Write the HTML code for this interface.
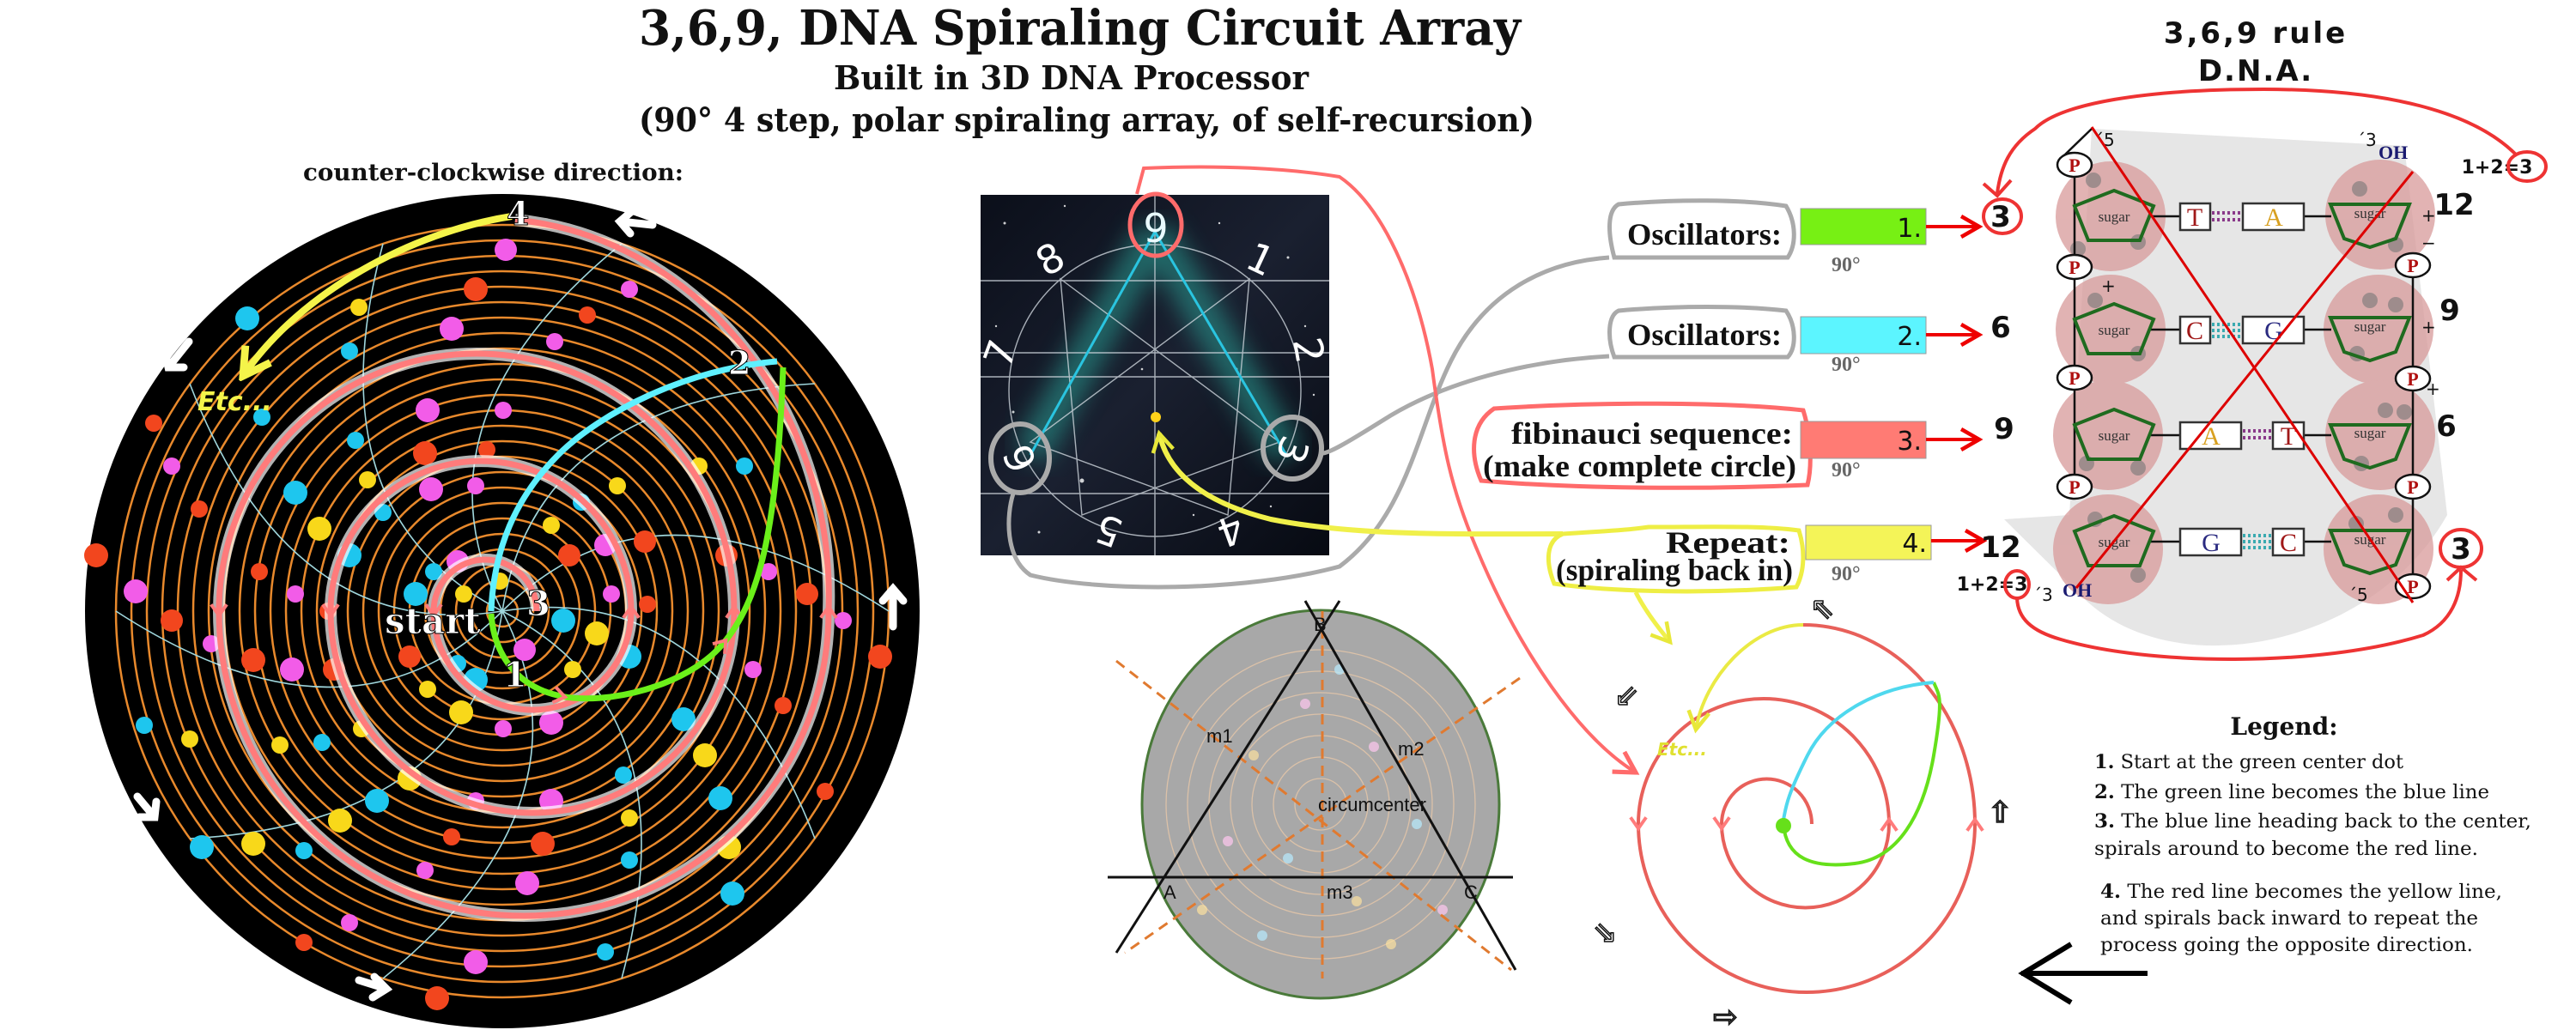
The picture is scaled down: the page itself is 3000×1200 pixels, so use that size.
<!DOCTYPE html>
<html><head><meta charset="utf-8"><style>
html,body{margin:0;padding:0;background:#fff;}
svg{display:block;}
</style></head><body>
<svg width="3000" height="1200" viewBox="0 0 3000 1200" xmlns="http://www.w3.org/2000/svg">
<defs>
<marker id="rh" viewBox="0 0 20 20" refX="16" refY="10" markerWidth="9" markerHeight="9" orient="auto" markerUnits="userSpaceOnUse"><path d="M2 2 L16 10 L2 18" fill="none" stroke="#d00" stroke-width="3"/></marker>
<marker id="ra" viewBox="0 0 20 20" refX="17" refY="10" markerWidth="30" markerHeight="30" orient="auto" markerUnits="userSpaceOnUse"><path d="M3 2 L17 10 L3 18" fill="none" stroke="#e00" stroke-width="3"/></marker>
<marker id="pa" viewBox="0 0 20 20" refX="17" refY="10" markerWidth="34" markerHeight="34" orient="auto" markerUnits="userSpaceOnUse"><path d="M3 2 L17 10 L3 18" fill="none" stroke="#ff6b6b" stroke-width="3"/></marker>
<marker id="ya" viewBox="0 0 20 20" refX="17" refY="10" markerWidth="44" markerHeight="44" orient="auto" markerUnits="userSpaceOnUse"><path d="M3 2 L17 10 L3 18" fill="none" stroke="#f4f44a" stroke-width="4"/></marker>
<marker id="ya2" viewBox="0 0 20 20" refX="17" refY="10" markerWidth="30" markerHeight="30" orient="auto" markerUnits="userSpaceOnUse"><path d="M3 2 L17 10 L3 18" fill="none" stroke="#e8e83a" stroke-width="3"/></marker>
<marker id="ch" viewBox="0 0 20 20" refX="10" refY="10" markerWidth="26" markerHeight="26" orient="auto" markerUnits="userSpaceOnUse"><path d="M4 3 L14 10 L4 17" fill="none" stroke="#ff7b7b" stroke-width="3"/></marker>
<linearGradient id="sky" x1="0" y1="0" x2="1" y2="1"><stop offset="0" stop-color="#0b0f1a"/><stop offset="0.5" stop-color="#1a2030"/><stop offset="1" stop-color="#070a12"/></linearGradient>
<filter id="blur"><feGaussianBlur stdDeviation="14"/></filter>
</defs>

<g font-family="'DejaVu Serif','Liberation Serif',serif" font-weight="bold" fill="#111">
<text x="744" y="52" font-size="56" textLength="1027" lengthAdjust="spacingAndGlyphs">3,6,9, DNA Spiraling Circuit Array</text>
<text x="971" y="104" font-size="38" textLength="553" lengthAdjust="spacingAndGlyphs">Built in 3D DNA Processor</text>
<text x="744" y="153" font-size="38" textLength="1043" lengthAdjust="spacingAndGlyphs">(90° 4 step, polar spiraling array, of self-recursion)</text>
<text x="353" y="210" font-size="27" textLength="443" lengthAdjust="spacingAndGlyphs">counter-clockwise direction:</text>
</g>

<circle cx="585" cy="712" r="486" fill="#000"/>
<g fill="none" stroke="#e8892c" stroke-width="2.5">
<circle cx="585" cy="712" r="18"/><circle cx="585" cy="712" r="36"/><circle cx="585" cy="712" r="54"/><circle cx="585" cy="712" r="72"/><circle cx="585" cy="712" r="90"/><circle cx="585" cy="712" r="108"/><circle cx="585" cy="712" r="126"/><circle cx="585" cy="712" r="144"/><circle cx="585" cy="712" r="162"/><circle cx="585" cy="712" r="180"/><circle cx="585" cy="712" r="198"/><circle cx="585" cy="712" r="216"/><circle cx="585" cy="712" r="234"/><circle cx="585" cy="712" r="252"/><circle cx="585" cy="712" r="270"/><circle cx="585" cy="712" r="288"/><circle cx="585" cy="712" r="306"/><circle cx="585" cy="712" r="324"/><circle cx="585" cy="712" r="342"/><circle cx="585" cy="712" r="360"/><circle cx="585" cy="712" r="378"/><circle cx="585" cy="712" r="396"/><circle cx="585" cy="712" r="414"/><circle cx="585" cy="712" r="432"/><circle cx="585" cy="712" r="450"/>
</g>
<g fill="none" stroke="#9fd6dc" stroke-width="1.6">
<path d="M585 712 Q762 535 1035 712"/><path d="M585 712 Q832 673 949 977"/><path d="M585 712 Q808 826 724 1140"/><path d="M585 712 Q699 935 446 1140"/><path d="M585 712 Q546 959 221 977"/><path d="M585 712 Q408 889 135 712"/><path d="M585 712 Q338 751 221 447"/><path d="M585 712 Q362 598 446 284"/><path d="M585 712 Q472 489 724 284"/><path d="M585 712 Q624 465 949 447"/>
</g>
<g fill="#f2461e">
<circle cx="554" cy="337" r="14"/><circle cx="684" cy="367" r="10"/><circle cx="112" cy="647" r="14"/><circle cx="200" cy="723" r="13"/><circle cx="295" cy="769" r="14"/><circle cx="495" cy="528" r="14"/><circle cx="389" cy="780" r="13"/><circle cx="477" cy="765" r="13"/><circle cx="663" cy="647" r="13"/><circle cx="751" cy="631" r="13"/><circle cx="846" cy="647" r="13"/><circle cx="940" cy="692" r="13"/><circle cx="1025" cy="765" r="14"/><circle cx="912" cy="822" r="10"/><circle cx="632" cy="983" r="14"/><circle cx="526" cy="975" r="10"/><circle cx="961" cy="922" r="10"/><circle cx="354" cy="1098" r="10"/><circle cx="509" cy="1163" r="14"/><circle cx="179" cy="493" r="10"/><circle cx="232" cy="593" r="10"/><circle cx="567" cy="524" r="10"/><circle cx="754" cy="704" r="10"/><circle cx="382" cy="712" r="10"/><circle cx="302" cy="666" r="10"/>
</g>
<g fill="#f25ce8">
<circle cx="589" cy="291" r="13"/><circle cx="733" cy="337" r="10"/><circle cx="646" cy="398" r="10"/><circle cx="526" cy="383" r="14"/><circle cx="498" cy="478" r="14"/><circle cx="586" cy="478" r="10"/><circle cx="502" cy="570" r="14"/><circle cx="554" cy="566" r="10"/><circle cx="705" cy="635" r="13"/><circle cx="712" cy="692" r="10"/><circle cx="533" cy="654" r="13"/><circle cx="611" cy="757" r="13"/><circle cx="642" cy="842" r="14"/><circle cx="586" cy="849" r="10"/><circle cx="158" cy="689" r="14"/><circle cx="340" cy="780" r="14"/><circle cx="344" cy="692" r="10"/><circle cx="554" cy="933" r="10"/><circle cx="642" cy="933" r="14"/><circle cx="614" cy="1029" r="14"/><circle cx="495" cy="1014" r="10"/><circle cx="407" cy="1075" r="10"/><circle cx="554" cy="1121" r="14"/><circle cx="877" cy="780" r="10"/><circle cx="895" cy="666" r="10"/><circle cx="200" cy="543" r="10"/><circle cx="982" cy="723" r="10"/><circle cx="246" cy="750" r="10"/>
</g>
<g fill="#1ec6ee">
<circle cx="288" cy="371" r="14"/><circle cx="407" cy="409" r="10"/><circle cx="414" cy="513" r="10"/><circle cx="344" cy="574" r="14"/><circle cx="446" cy="597" r="10"/><circle cx="407" cy="647" r="14"/><circle cx="484" cy="692" r="14"/><circle cx="505" cy="666" r="10"/><circle cx="554" cy="792" r="14"/><circle cx="656" cy="723" r="14"/><circle cx="677" cy="585" r="10"/><circle cx="733" cy="765" r="14"/><circle cx="867" cy="543" r="10"/><circle cx="796" cy="838" r="14"/><circle cx="839" cy="930" r="14"/><circle cx="733" cy="1002" r="10"/><circle cx="853" cy="1041" r="14"/><circle cx="726" cy="903" r="10"/><circle cx="439" cy="933" r="14"/><circle cx="375" cy="865" r="10"/><circle cx="168" cy="845" r="10"/><circle cx="235" cy="987" r="14"/><circle cx="354" cy="991" r="10"/><circle cx="705" cy="1109" r="10"/><circle cx="305" cy="486" r="10"/><circle cx="533" cy="773" r="10"/>
</g>
<g fill="#f8d81a">
<circle cx="418" cy="358" r="10"/><circle cx="372" cy="616" r="14"/><circle cx="428" cy="559" r="10"/><circle cx="642" cy="612" r="10"/><circle cx="719" cy="566" r="10"/><circle cx="814" cy="543" r="10"/><circle cx="695" cy="738" r="14"/><circle cx="667" cy="780" r="10"/><circle cx="537" cy="830" r="14"/><circle cx="498" cy="803" r="10"/><circle cx="477" cy="907" r="14"/><circle cx="421" cy="849" r="10"/><circle cx="326" cy="868" r="10"/><circle cx="221" cy="861" r="10"/><circle cx="295" cy="983" r="14"/><circle cx="396" cy="956" r="14"/><circle cx="733" cy="953" r="10"/><circle cx="821" cy="880" r="14"/><circle cx="849" cy="987" r="14"/><circle cx="582" cy="677" r="10"/><circle cx="540" cy="692" r="10"/>
</g>
<path d="M625 712 A60 60 0 0 0 505 712 A115 115 0 0 0 735 712 A175 175 0 0 0 385 712 A235 235 0 0 0 855 712 A300 300 0 0 0 255 712 A355 355 0 0 0 965 712 A400 440 0 0 0 600 256" fill="none" stroke="#fff" stroke-opacity="0.7" stroke-width="14"/>
<path d="M625 712 A60 60 0 0 0 505 712 A115 115 0 0 0 735 712 A175 175 0 0 0 385 712 A235 235 0 0 0 855 712 A300 300 0 0 0 255 712 A355 355 0 0 0 965 712 A400 440 0 0 0 600 256" fill="none" stroke="#ff7b7b" stroke-width="7" marker-mid="url(#ch)"/>
<path d="M572 715 C575 760 600 800 653 811 S800 800 842 750 S905 620 912 428" fill="none" stroke="#6bf01a" stroke-width="7" marker-mid="url(#ch)"/>
<path d="M905 421 C800 430 700 480 650 530 S575 640 572 712" fill="none" stroke="#5ff0ff" stroke-width="7"/>
<path d="M596 252 C480 270 350 340 283 438" fill="none" stroke="#f4f44a" stroke-width="8" marker-end="url(#ya)"/>
<text x="230" y="478" font-family="'DejaVu Sans',sans-serif" font-weight="bold" font-style="italic" font-size="30" fill="#f4f44a">Etc...</text>
<g font-family="'DejaVu Serif',serif" font-weight="bold" fill="#fff" stroke="#000" stroke-width="1">
<text x="590" y="262" font-size="38">4</text>
<text x="848" y="436" font-size="38">2</text>
<text x="613" y="717" font-size="40">3</text>
<text x="586" y="800" font-size="40">1</text>
<text x="448" y="738" font-size="42">start</text>
</g>
<g fill="none" stroke="#fff" stroke-width="9" stroke-linecap="round">
<path d="M760 262 L722 258 M736 246 L722 258 L734 272"/>
<path d="M220 398 L196 428 M192 410 L196 428 L214 428"/>
<path d="M1040 730 L1040 686 M1028 700 L1040 686 L1052 700"/>
<path d="M160 928 L180 952 M182 934 L180 952 L162 952"/>
<path d="M418 1142 L450 1152 M436 1138 L450 1152 L434 1162"/>
</g>

<rect x="1142" y="227" width="406" height="420" fill="url(#sky)"/>
<g fill="#fff" opacity="0.8">
<circle cx="1170" cy="260" r="1.5"/><circle cx="1240" cy="240" r="1.2"/><circle cx="1300" cy="350" r="1.5"/><circle cx="1420" cy="260" r="1.2"/><circle cx="1500" cy="300" r="1.5"/><circle cx="1530" cy="460" r="1.2"/><circle cx="1180" cy="480" r="1.5"/><circle cx="1260" cy="560" r="2.5"/><circle cx="1440" cy="430" r="1.5"/><circle cx="1390" cy="600" r="1.2"/><circle cx="1210" cy="620" r="1.5"/><circle cx="1480" cy="590" r="1.2"/><circle cx="1330" cy="430" r="1.3"/><circle cx="1160" cy="380" r="1.2"/><circle cx="1520" cy="380" r="1.2"/>
</g>
<path d="M1345 270 L1200 530 M1345 270 L1498 530" stroke="#2fb7a8" stroke-width="40" opacity="0.5" filter="url(#blur)" fill="none"/>
<g stroke="#cfd6dd" stroke-width="1.4" fill="none" opacity="0.8">
<line x1="1142" y1="327" x2="1548" y2="327"/><line x1="1142" y1="411" x2="1548" y2="411"/><line x1="1142" y1="439" x2="1548" y2="439"/><line x1="1142" y1="575" x2="1548" y2="575"/>
<line x1="1345" y1="227" x2="1345" y2="647"/>
<circle cx="1345" cy="455" r="170"/>
<path d="M1235 325 L1490 515 L1260 600 Z"/><path d="M1455 325 L1200 515 L1430 600 Z"/>
</g>
<path d="M1345 270 L1200 530 M1345 270 L1498 530" stroke="#2ac4e0" stroke-width="3" fill="none"/>
<circle cx="1346" cy="486" r="6" fill="#ffd21a"/>
<g font-family="'DejaVu Sans',sans-serif" font-size="46" fill="#fff" text-anchor="middle">
<text x="1346" y="282" fill="#e8fbff">9</text>
<text x="1468" y="318" transform="rotate(25 1468 302)">1</text>
<text x="1524" y="424" transform="rotate(80 1524 408)">2</text>
<text x="1505" y="540" transform="rotate(110 1505 524)">3</text>
<text x="1433" y="634" transform="rotate(160 1433 618)">4</text>
<text x="1291" y="634" transform="rotate(200 1291 618)">5</text>
<text x="1188" y="550" transform="rotate(245 1188 534)">6</text>
<text x="1165" y="428" transform="rotate(290 1165 412)">7</text>
<text x="1223" y="318" transform="rotate(330 1223 302)">8</text>
</g>
<ellipse cx="1346" cy="262" rx="30" ry="36" fill="none" stroke="#ff6b6b" stroke-width="5"/>
<ellipse cx="1505" cy="522" rx="34" ry="36" fill="none" stroke="#aaa" stroke-width="6"/>
<ellipse cx="1188" cy="534" rx="34" ry="40" fill="none" stroke="#aaa" stroke-width="6"/>

<path d="M1874 300 C1800 305 1730 340 1690 420 C1650 500 1640 600 1560 660 C1450 690 1280 690 1200 670 C1170 650 1172 600 1180 575" fill="none" stroke="#aaa" stroke-width="5"/>
<path d="M1874 415 C1780 420 1680 445 1610 490 C1570 515 1545 530 1538 528" fill="none" stroke="#aaa" stroke-width="5"/>
<path d="M1324 226 L1332 196 C1420 192 1500 196 1560 206 C1610 240 1650 330 1668 430 C1680 520 1690 570 1720 640 C1770 760 1840 860 1905 900" fill="none" stroke="#ff6b6b" stroke-width="4" marker-end="url(#pa)"/>
<path d="M1820 622 C1700 622 1580 625 1480 605 C1400 585 1360 550 1350 505" fill="none" stroke="#f0f04a" stroke-width="6" marker-end="url(#ya2)"/>
<path d="M1905 690 C1915 710 1930 730 1945 748" fill="none" stroke="#f0f04a" stroke-width="5" marker-end="url(#ya2)"/>

<ellipse cx="1538" cy="937" rx="208" ry="226" fill="#a8a8a8" stroke="#4a7a3a" stroke-width="3"/>
<g fill="none" stroke="#e8c8a8" stroke-width="1.3" opacity="0.8">
<circle cx="1538" cy="937" r="30"/><circle cx="1538" cy="937" r="55"/><circle cx="1538" cy="937" r="80"/><circle cx="1538" cy="937" r="105"/><circle cx="1538" cy="937" r="130"/><circle cx="1538" cy="937" r="155"/><circle cx="1538" cy="937" r="180"/>
</g>
<g opacity="0.7">
<circle cx="1460" cy="880" r="6" fill="#fde2a0"/><circle cx="1600" cy="870" r="6" fill="#ffc8f0"/><circle cx="1500" cy="1000" r="6" fill="#b8ecff"/><circle cx="1580" cy="1050" r="6" fill="#fde2a0"/><circle cx="1430" cy="980" r="6" fill="#ffc8f0"/><circle cx="1650" cy="960" r="6" fill="#b8ecff"/><circle cx="1520" cy="820" r="6" fill="#ffc8f0"/><circle cx="1470" cy="1090" r="6" fill="#b8ecff"/><circle cx="1620" cy="1100" r="6" fill="#fde2a0"/><circle cx="1400" cy="1060" r="6" fill="#fde2a0"/><circle cx="1560" cy="780" r="6" fill="#b8ecff"/><circle cx="1680" cy="1060" r="6" fill="#ffc8f0"/>
</g>
<g stroke="#e07a30" stroke-width="3" stroke-dasharray="12 8" fill="none">
<line x1="1540" y1="712" x2="1540" y2="1140"/><line x1="1300" y1="770" x2="1760" y2="1130"/><line x1="1770" y1="790" x2="1310" y2="1110"/>
</g>
<g stroke="#111" stroke-width="3" fill="none">
<line x1="1290" y1="1022" x2="1762" y2="1022"/><line x1="1300" y1="1110" x2="1560" y2="700"/><line x1="1520" y1="700" x2="1765" y2="1130"/>
</g>
<g font-family="'Liberation Sans',sans-serif" font-size="22" fill="#111">
<text x="1530" y="735">B</text><text x="1355" y="1047">A</text><text x="1705" y="1047">C</text>
<text x="1405" y="865">m1</text><text x="1628" y="880">m2</text><text x="1545" y="1047">m3</text><text x="1535" y="945">circumcenter</text>
</g>

<g fill="none" stroke-width="5">
<path d="M1880 300 C1872 270 1872 245 1885 238 C1950 232 2030 232 2080 240 C2092 260 2092 285 2082 300 Z" stroke="#aaa"/>
<path d="M1880 416 C1872 395 1872 368 1885 362 C1950 356 2030 356 2080 362 C2092 380 2092 405 2082 416 Z" stroke="#aaa"/>
<path d="M1725 560 C1712 530 1712 495 1740 476 C1860 468 2010 468 2100 478 C2110 510 2110 545 2105 565 C1990 570 1840 570 1725 560 Z" stroke="#ff6b6b"/>
<path d="M1810 680 C1800 655 1800 630 1820 622 C1880 618 1890 618 1920 614 C1990 614 2050 612 2095 618 C2102 640 2102 665 2092 684 C1990 692 1880 690 1810 680 Z" stroke="#eeee44"/>
</g>
<g font-family="'Liberation Serif',serif" font-weight="bold" fill="#111" font-size="36">
<text x="1895" y="285" textLength="180" lengthAdjust="spacingAndGlyphs">Oscillators:</text>
<text x="1895" y="402" textLength="180" lengthAdjust="spacingAndGlyphs">Oscillators:</text>
<text x="1760" y="517" textLength="328" lengthAdjust="spacingAndGlyphs">fibinauci sequence:</text>
<text x="1727" y="555" textLength="365" lengthAdjust="spacingAndGlyphs">(make complete circle)</text>
<text x="1940" y="644" textLength="145" lengthAdjust="spacingAndGlyphs">Repeat:</text>
<text x="1812" y="676" textLength="276" lengthAdjust="spacingAndGlyphs">(spiraling back in)</text>
</g>
<rect x="2097" y="243" width="146" height="42" fill="#77f014" stroke="#999"/>
<rect x="2097" y="369" width="146" height="43" fill="#5cf5ff" stroke="#999"/>
<rect x="2097" y="491" width="146" height="43" fill="#ff7b74" stroke="#999"/>
<rect x="2103" y="612" width="146" height="40" fill="#f4f458" stroke="#999"/>
<g font-family="'DejaVu Sans',sans-serif" font-size="30" fill="#111" text-anchor="end">
<text x="2238" y="276">1.</text><text x="2238" y="402">2.</text><text x="2238" y="524">3.</text><text x="2244" y="643">4.</text>
</g>
<g font-family="'Liberation Serif',serif" font-weight="bold" font-size="24" fill="#666">
<text x="2133" y="316">90°</text><text x="2133" y="432">90°</text><text x="2133" y="555">90°</text><text x="2133" y="676">90°</text>
</g>
<g stroke="#e00" stroke-width="4" fill="none">
<line x1="2243" y1="264" x2="2305" y2="264" marker-end="url(#ra)"/>
<line x1="2243" y1="390" x2="2305" y2="390" marker-end="url(#ra)"/>
<line x1="2243" y1="512" x2="2305" y2="512" marker-end="url(#ra)"/>
<line x1="2249" y1="630" x2="2310" y2="630" marker-end="url(#ra)"/>
</g>

<g font-family="'DejaVu Sans',sans-serif" font-weight="bold" fill="#111" text-anchor="middle">
<text x="2627" y="50" font-size="34" letter-spacing="3">3,6,9 rule</text>
<text x="2627" y="94" font-size="34" letter-spacing="2">D.N.A.</text>
</g>
<path d="M2436 150 L2800 170 L2850 600 C2760 760 2520 800 2420 690 L2334 605 L2410 600 Z" fill="#e6e6e6"/>
<g fill="#d89a9a" opacity="0.75">
<circle cx="2458" cy="252" r="64"/><circle cx="2458" cy="384" r="64"/><circle cx="2455" cy="507" r="64"/><circle cx="2455" cy="640" r="64"/>
<circle cx="2772" cy="250" r="64"/><circle cx="2770" cy="384" r="64"/><circle cx="2772" cy="507" r="64"/><circle cx="2770" cy="640" r="64"/>
</g>
<g fill="#777" opacity="0.6">
<circle cx="2438" cy="210" r="9"/><circle cx="2490" cy="282" r="9"/><circle cx="2420" cy="290" r="9"/><circle cx="2748" cy="220" r="9"/><circle cx="2790" cy="285" r="9"/><circle cx="2760" cy="350" r="9"/><circle cx="2790" cy="355" r="9"/><circle cx="2745" cy="412" r="9"/><circle cx="2778" cy="478" r="9"/><circle cx="2800" cy="480" r="9"/><circle cx="2750" cy="540" r="9"/><circle cx="2790" cy="600" r="9"/><circle cx="2744" cy="610" r="9"/><circle cx="2490" cy="670" r="9"/><circle cx="2440" cy="605" r="9"/><circle cx="2430" cy="540" r="9"/><circle cx="2490" cy="545" r="9"/><circle cx="2440" cy="350" r="9"/><circle cx="2490" cy="412" r="9"/>
</g>
<g stroke="#111" stroke-width="2.5" fill="none">
<line x1="2416" y1="192" x2="2416" y2="567"/><line x1="2810" y1="309" x2="2810" y2="683"/>
<line x1="2436" y1="150" x2="2405" y2="180"/>
<line x1="2505" y1="252" x2="2539" y2="252"/><line x1="2683" y1="252" x2="2715" y2="252"/>
<line x1="2505" y1="384" x2="2539" y2="384"/><line x1="2683" y1="384" x2="2715" y2="384"/>
<line x1="2505" y1="507" x2="2539" y2="507"/><line x1="2683" y1="507" x2="2715" y2="507"/>
<line x1="2505" y1="631" x2="2539" y2="631"/><line x1="2683" y1="631" x2="2715" y2="631"/>
</g>
<g stroke="#1f6b1f" stroke-width="4" fill="none">
<path d="M2462 222 L2508 240 L2492 280 L2432 280 L2416 240 Z"/>
<path d="M2462 354 L2508 372 L2492 412 L2432 412 L2416 372 Z"/>
<path d="M2462 477 L2508 495 L2492 535 L2432 535 L2416 495 Z"/>
<path d="M2462 601 L2508 619 L2492 659 L2432 659 L2416 619 Z"/>
<path d="M2714 238 L2806 238 L2790 278 L2760 288 L2730 278 Z"/>
<path d="M2714 370 L2806 370 L2790 410 L2760 420 L2730 410 Z"/>
<path d="M2714 495 L2806 495 L2790 535 L2760 545 L2730 535 Z"/>
<path d="M2714 618 L2806 618 L2790 658 L2760 668 L2730 658 Z"/>
</g>
<g font-family="'Liberation Serif',serif" font-size="17" fill="#333" text-anchor="middle">
<text x="2462" y="258">sugar</text><text x="2462" y="390">sugar</text><text x="2462" y="513">sugar</text><text x="2462" y="637">sugar</text>
<text x="2760" y="254">sugar</text><text x="2760" y="386">sugar</text><text x="2760" y="510">sugar</text><text x="2760" y="634">sugar</text>
</g>
<g fill="#fff" stroke="#333" stroke-width="2.5">
<rect x="2539" y="237" width="35" height="31"/><rect x="2612" y="237" width="71" height="31"/>
<rect x="2539" y="369" width="35" height="31"/><rect x="2612" y="369" width="71" height="31"/>
<rect x="2539" y="492" width="71" height="31"/><rect x="2647" y="492" width="36" height="31"/>
<rect x="2539" y="616" width="71" height="31"/><rect x="2647" y="616" width="36" height="31"/>
</g>
<g stroke-width="4" stroke-dasharray="3 3">
<path d="M2576 248 H2610 M2576 256 H2610" stroke="#8a3a8a"/>
<path d="M2576 378 H2610 M2576 385 H2610 M2576 392 H2610" stroke="#3aaab0"/>
<path d="M2612 502 H2646 M2612 510 H2646" stroke="#8a3a8a"/>
<path d="M2612 624 H2646 M2612 631 H2646 M2612 638 H2646" stroke="#3aaab0"/>
</g>
<g font-family="'Liberation Serif',serif" font-size="30" text-anchor="middle">
<text x="2556" y="263" fill="#a01818">T</text><text x="2648" y="263" fill="#d8a020">A</text>
<text x="2556" y="395" fill="#a01818">C</text><text x="2648" y="395" fill="#2a2a80">G</text>
<text x="2575" y="518" fill="#d8a020">A</text><text x="2665" y="518" fill="#a01818">T</text>
<text x="2575" y="642" fill="#2a2a80">G</text><text x="2665" y="642" fill="#a01818">C</text>
</g>
<g fill="#fff" stroke="#111" stroke-width="2.5">
<ellipse cx="2416" cy="192" rx="20" ry="14"/><ellipse cx="2416" cy="311" rx="20" ry="14"/><ellipse cx="2416" cy="440" rx="20" ry="14"/><ellipse cx="2416" cy="567" rx="20" ry="14"/>
<ellipse cx="2810" cy="309" rx="20" ry="14"/><ellipse cx="2810" cy="441" rx="20" ry="14"/><ellipse cx="2810" cy="567" rx="20" ry="14"/><ellipse cx="2810" cy="683" rx="20" ry="14"/>
</g>
<g font-family="'Liberation Serif',serif" font-weight="bold" font-size="22" fill="#b01010" text-anchor="middle">
<text x="2416" y="200">P</text><text x="2416" y="319">P</text><text x="2416" y="448">P</text><text x="2416" y="575">P</text>
<text x="2810" y="317">P</text><text x="2810" y="449">P</text><text x="2810" y="575">P</text><text x="2810" y="691">P</text>
</g>
<g font-family="'Liberation Serif',serif" font-weight="bold" font-size="22" fill="#1a1a70">
<text x="2770" y="185">OH</text><text x="2402" y="695">OH</text>
</g>
<g font-family="'DejaVu Sans',sans-serif" font-size="20" fill="#111">
<text x="2440" y="170">´5</text><text x="2745" y="170">´3</text><text x="2368" y="700">´3</text><text x="2735" y="700">´5</text>
<text x="2820" y="258">+</text><text x="2820" y="388">+</text><text x="2447" y="340">+</text><text x="2825" y="460">+</text><text x="2820" y="290">−</text>
</g>
<line x1="2436" y1="148" x2="2810" y2="702" stroke="#d00" stroke-width="3"/>
<line x1="2418" y1="685" x2="2810" y2="200" stroke="#d00" stroke-width="3"/>
<g font-family="'DejaVu Sans',sans-serif" font-weight="bold" fill="#111" font-size="34" text-anchor="middle">
<text x="2330" y="264">3</text><text x="2330" y="393">6</text><text x="2334" y="511">9</text><text x="2330" y="649">12</text>
<text x="2858" y="250">12</text><text x="2853" y="373">9</text><text x="2849" y="508">6</text><text x="2866" y="651">3</text>
</g>
<g font-family="'DejaVu Sans',sans-serif" font-weight="bold" fill="#111" font-size="22" text-anchor="middle">
<text x="2320" y="688">1+2=3</text><text x="2908" y="202">1+2=3</text>
</g>
<g fill="none" stroke="#ee3333" stroke-width="4">
<ellipse cx="2332" cy="252" rx="22" ry="20"/>
<ellipse cx="2349" cy="681" rx="14" ry="16"/>
<ellipse cx="2943" cy="194" rx="22" ry="17"/>
<ellipse cx="2866" cy="639" rx="24" ry="22"/>
<path d="M2930 180 C2880 130 2780 104 2636 104 C2500 104 2400 120 2370 150 C2340 170 2330 195 2326 225"/>
<path d="M2310 214 L2326 228 L2342 210"/>
<path d="M2349 697 C2350 720 2365 735 2400 745 C2500 775 2700 778 2822 740 C2855 725 2866 695 2866 664"/>
<path d="M2850 676 L2866 661 L2884 676"/>
</g>

<path d="M2110 960 A52 52 0 0 0 2005 960 A97 97 0 0 0 2200 960 A146 146 0 0 0 1908 960 A196 196 0 0 0 2300 960 A200 232 0 0 0 2100 728" fill="none" stroke="#e8605a" stroke-width="4" marker-mid="url(#ch)"/>
<path d="M2100 728 C2040 728 1985 790 1975 850" fill="none" stroke="#eaea44" stroke-width="4" marker-end="url(#ya2)"/>
<text x="1930" y="880" font-family="'DejaVu Sans',sans-serif" font-weight="bold" font-style="italic" font-size="20" fill="#e0e030">Etc...</text>
<path d="M2077 960 C2080 1000 2110 1012 2160 1006 S2240 950 2252 880 S2258 810 2252 795" fill="none" stroke="#66e01a" stroke-width="4"/>
<path d="M2252 795 C2190 800 2130 830 2105 880 S2080 940 2077 955" fill="none" stroke="#4fd8ee" stroke-width="4"/>
<circle cx="2077" cy="962" r="9" fill="#66e01a"/>
<g font-family="'DejaVu Sans',sans-serif" font-size="34" fill="#fff" stroke="#111" stroke-width="1.5">
<text x="1880" y="822">⇙</text><text x="2108" y="720">⇖</text><text x="2315" y="958">⇧</text><text x="1855" y="1098">⇘</text><text x="1995" y="1196">⇨</text>
</g>

<text x="2660" y="856" text-anchor="middle" font-family="'DejaVu Serif',serif" font-weight="bold" font-size="28" fill="#111">Legend:</text>
<g font-family="'DejaVu Serif',serif" font-size="22" fill="#111">
<text x="2439" y="895" textLength="360" lengthAdjust="spacingAndGlyphs"><tspan font-weight="bold">1.</tspan> Start at the green center dot</text>
<text x="2439" y="930" textLength="460" lengthAdjust="spacingAndGlyphs"><tspan font-weight="bold">2.</tspan> The green line becomes the blue line</text>
<text x="2439" y="964" textLength="509" lengthAdjust="spacingAndGlyphs"><tspan font-weight="bold">3.</tspan> The blue line heading back to the center,</text>
<text x="2439" y="996" textLength="447" lengthAdjust="spacingAndGlyphs">spirals around to become the red line.</text>
<text x="2446" y="1046" textLength="468" lengthAdjust="spacingAndGlyphs"><tspan font-weight="bold">4.</tspan> The red line becomes the yellow line,</text>
<text x="2446" y="1077" textLength="440" lengthAdjust="spacingAndGlyphs">and spirals back inward to repeat the</text>
<text x="2446" y="1108" textLength="434" lengthAdjust="spacingAndGlyphs">process going the opposite direction.</text>
</g>
<g stroke="#000" stroke-width="6" fill="none">
<line x1="2354" y1="1134" x2="2501" y2="1134"/>
<path d="M2412 1100 L2356 1134 L2412 1168"/>
</g>
</svg>
</body></html>
